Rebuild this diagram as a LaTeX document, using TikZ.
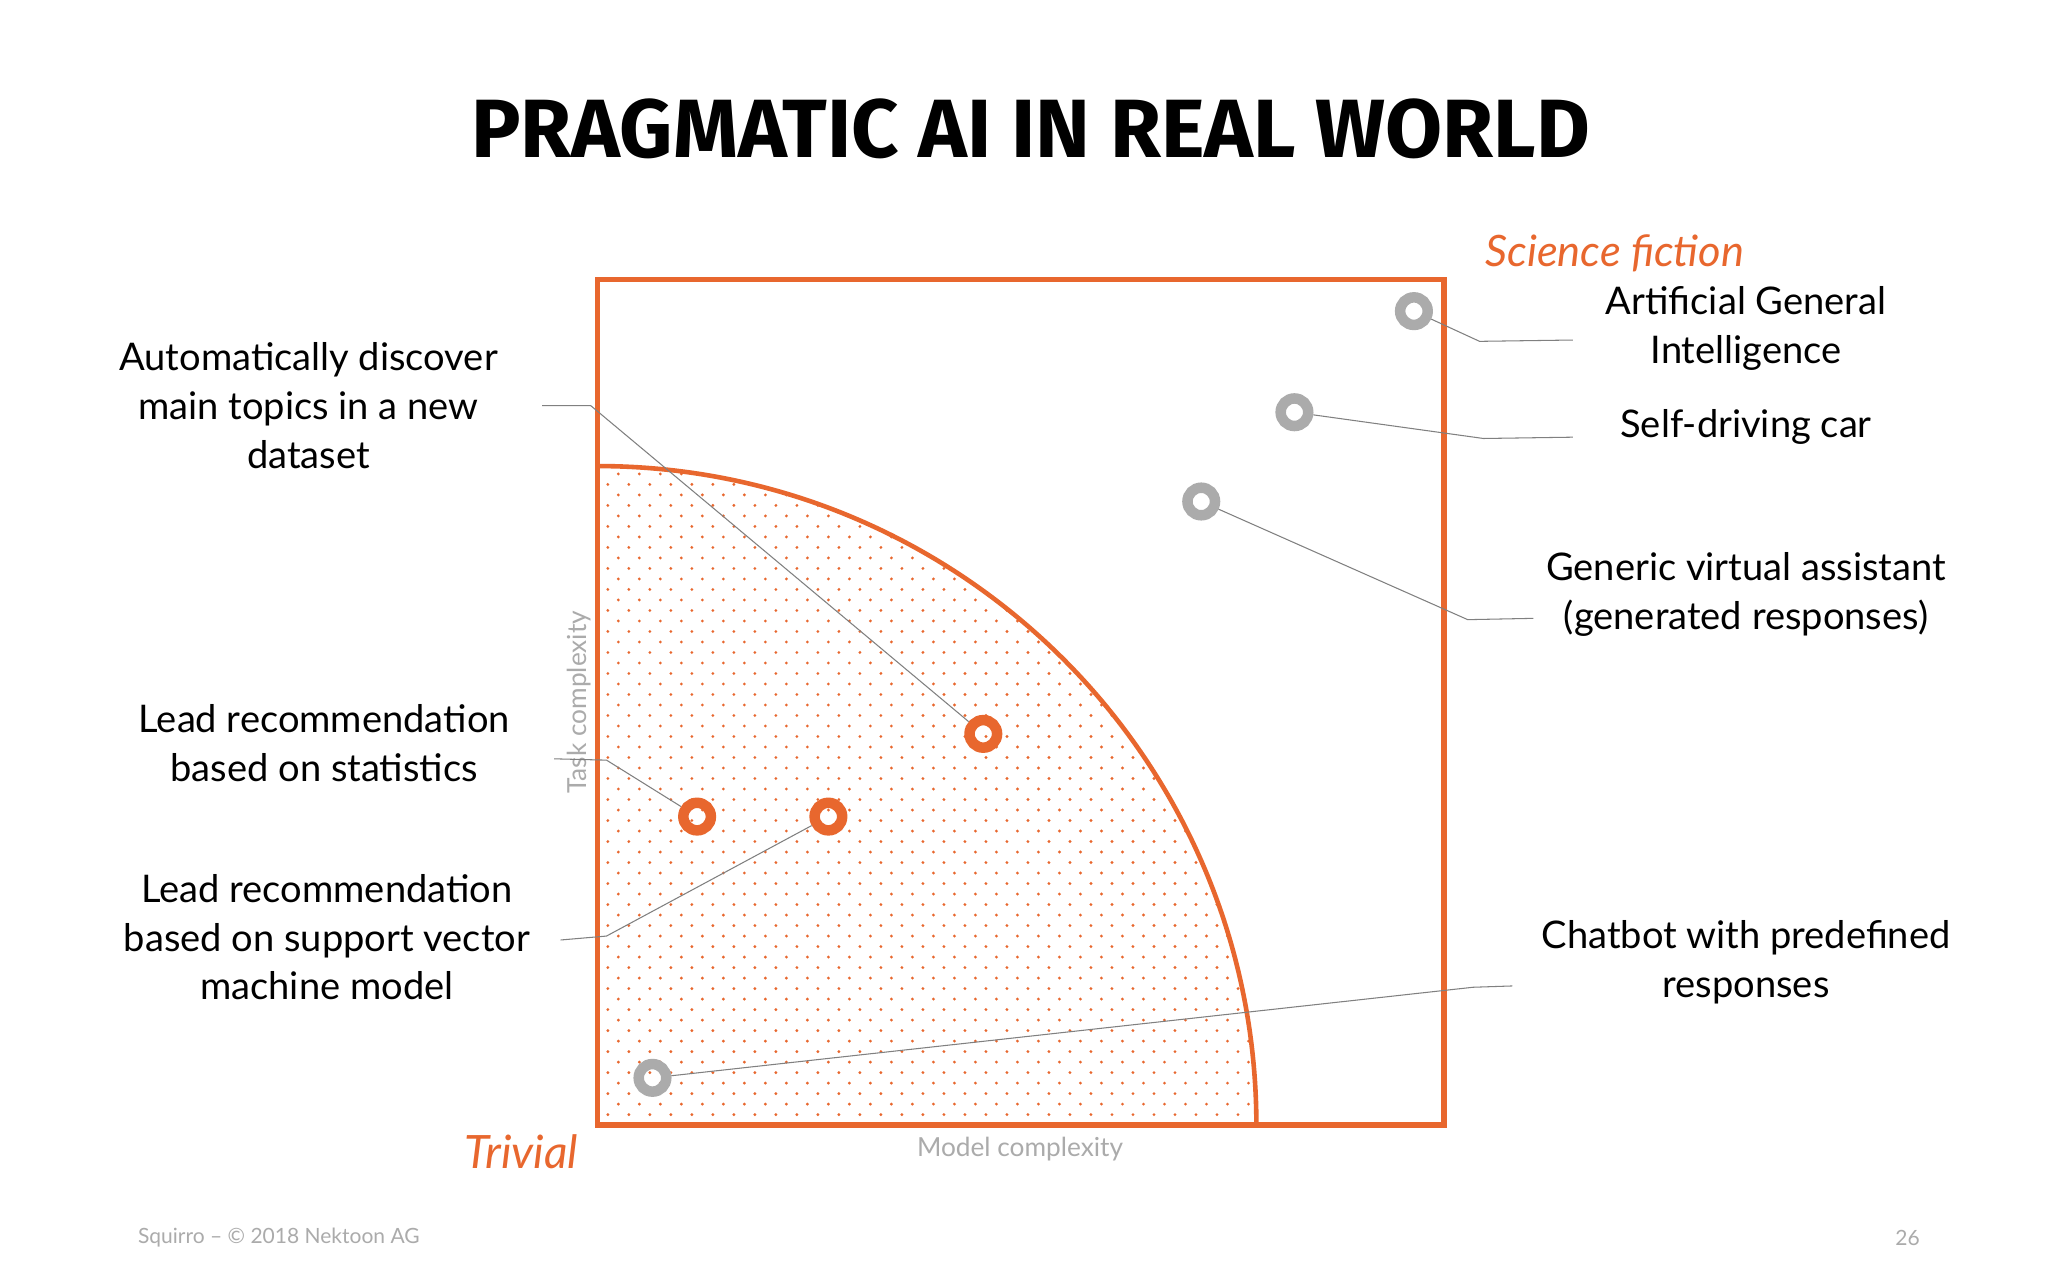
\documentclass[tikz,border=0pt]{standalone}
\usepackage{fontspec}
\setmainfont{Lato}
\newfontfamily\titlefont{Fira Sans}
\definecolor{org}{HTML}{E8672E}
\definecolor{gry}{HTML}{ABABAB}
\definecolor{lead}{HTML}{808080}
\begin{document}
\begin{tikzpicture}[x=1pt,y=-1pt,
  lbl/.style={align=center,font=\fontsize{29}{37}\selectfont,inner sep=0},
  ringg/.style={circle,draw=gry,line width=8pt,minimum size=21pt,inner sep=0},
  ringo/.style={circle,draw=org,line width=8pt,minimum size=21pt,inner sep=0},
  ld/.style={draw=lead,line width=0.8pt}]
\useasboundingbox (0,0) rectangle (1560,975);
\fill[white] (0,0) rectangle (1560,975);
\node[font=\titlefont\bfseries\fontsize{63}{70}\selectfont] (title) at (785,98) {PRAGMATIC AI IN REAL WORLD};
% dotted quarter disc
\begin{scope}
\clip (455,857) -- (455,355) arc[start angle=-90,end angle=0,radius=502] -- cycle;
\foreach \i in {0,...,32}{\foreach \j in {0,...,32}{
 \fill[org] ({463+\i*16},{849-\j*16}) circle (1.2pt);
 \fill[org] ({471+\i*16},{841-\j*16}) circle (1.2pt);}}
\end{scope}
\draw[org,line width=3.5pt] (455,355) arc[start angle=-90,end angle=0,radius=502];
\draw[org,line width=4pt] (455,213) rectangle (1100,857);
% rings
\node[ringg] (agi) at (1077,237) {};
\node[ringg] (sdc) at (986,314) {};
\node[ringg] (gva) at (915,382) {};
\node[ringg] (cb) at (497,821) {};
\node[ringo] (auto) at (749,559) {};
\node[ringo] (lrs) at (531,622) {};
\node[ringo] (svm) at (631,622) {};
% labels
\node[lbl] (tauto) at (235,309) {Automatically discover\\main topics in a new\\dataset};
\node[lbl] (tlrs) at (247,566) {Lead recommendation\\based on statistics};
\node[lbl] (tsvm) at (249,714) {Lead recommendation\\based on support vector\\machine model};
\node[lbl] (tagi) at (1330,250) {Artificial General\\Intelligence};
\node[lbl] (tsdc) at (1330,325) {Self-driving car};
\node[lbl] (tgva) at (1330,453) {Generic virtual assistant\\(generated responses)};
\node[lbl] (tcb) at (1330,733) {Chatbot with predefined\\responses};
\node[font=\itshape\fontsize{33}{40}\selectfont,text=org] (sf) at (1230,193) {Science fiction};
\node[font=\itshape\fontsize{35}{40}\selectfont,text=org] (triv) at (397,877) {Trivial};
\node[font=\fontsize{20}{24}\selectfont,text=gry] (mc) at (777,875) {Model complexity};
\node[font=\fontsize{20}{24}\selectfont,text=gry,rotate=90] (tc) at (441,535) {Task complexity};
\node[font=\fontsize{16}{20}\selectfont,text=gry,anchor=west,inner sep=0] (foot) at (105,943) {Squirro – © 2018 Nektoon AG};
\node[font=\fontsize{16}{20}\selectfont,text=gry] (pg) at (1453,943) {26};
% leaders
\coordinate (a1) at (1127,260); \coordinate (a2) at (1198,259);
\coordinate (s1) at (1130,334); \coordinate (s2) at (1198,333);
\coordinate (g1) at (1118,472); \coordinate (g2) at (1168,471);
\coordinate (c1) at (1122,752); \coordinate (c2) at (1152,751);
\coordinate (u1) at (413,309); \coordinate (u2) at (450,309);
\coordinate (l1) at (422,578); \coordinate (l2) at (462,579);
\coordinate (v1) at (427,716); \coordinate (v2) at (462,713);
\draw[ld] (agi) -- (a1) -- (a2);
\draw[ld] (sdc) -- (s1) -- (s2);
\draw[ld] (gva) -- (g1) -- (g2);
\draw[ld] (cb) -- (c1) -- (c2);
\draw[ld] (u1) -- (u2) -- (auto);
\draw[ld] (l1) -- (l2) -- (lrs);
\draw[ld] (v1) -- (v2) -- (svm);
\end{tikzpicture}
\end{document}
